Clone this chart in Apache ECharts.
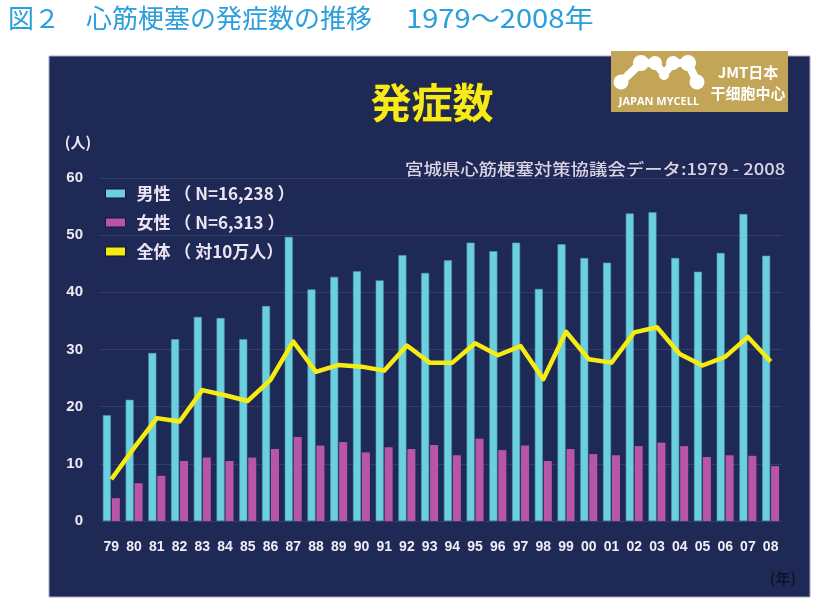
<!DOCTYPE html>
<html><head><meta charset="utf-8">
<script src="https://cdn.jsdelivr.net/npm/echarts@6/dist/echarts.min.js"></script>
<style>html,body{margin:0;padding:0;background:#fff}#c{width:820px;height:608px}</style>
</head><body><div id="c"></div>
<script>
const years = ['79','80','81','82','83','84','85','86','87','88','89','90','91','92','93','94','95','96','97','98','99','00','01','02','03','04','05','06','07','08'];
const male = [18.5,21.2,29.4,31.8,35.7,35.5,31.8,37.6,49.7,40.5,42.7,43.7,42.1,46.5,43.4,45.6,48.7,47.2,48.7,40.6,48.4,46.0,45.2,53.8,54.0,46.0,43.6,46.9,53.7,46.4];
const female = [4.0,6.6,7.9,10.5,11.1,10.5,11.1,12.6,14.7,13.2,13.8,12.0,12.9,12.6,13.3,11.5,14.4,12.4,13.2,10.5,12.6,11.7,11.5,13.1,13.7,13.1,11.2,11.5,11.4,9.6];
const total = [7.3,12.8,18.0,17.4,22.9,22.0,21.0,24.7,31.4,26.1,27.3,27.0,26.3,30.7,27.7,27.7,31.1,29.0,30.6,24.8,33.1,28.3,27.7,33.0,33.9,29.2,27.2,28.7,32.2,27.9];
const seriesNames = ['男性 （ N=16,238 ）','女性 （ N=6,313 ）','全体 （ 対10万人）'];
const yTicks = [0,10,20,30,40,50,60];

const chart = echarts.init(document.getElementById('c'), null, {renderer:'canvas'});
const cjk = "'Noto Sans CJK JP', 'Noto Sans', sans-serif";
const num = "'Liberation Sans Narrow', 'Liberation Sans', Arial, sans-serif";
chart.setOption({
  backgroundColor:'#ffffff',
  animation:false,
  grid:{left:100, right:38, top:178, bottom:87, containLabel:false},
  legend:{
    orient:'vertical', left:100, top:180, itemGap:12, itemWidth:20, itemHeight:9,
    data:seriesNames.map(n=>({name:n, icon:'rect'})),
    itemStyle:{borderColor:'#15182c', borderWidth:1},
    textStyle:{color:'#ece4f2', fontSize:17, fontWeight:'bold', fontFamily:cjk, padding:[0,0,0,6]}
  },
  xAxis:{
    type:'category', data:years,
    axisLine:{show:false}, axisTick:{show:false},
    axisLabel:{color:'#f2ecf6', fontSize:14, fontWeight:'bold', fontFamily:num, margin:19, interval:0}
  },
  yAxis:{
    type:'value', min:0, max:60, interval:10,
    axisLine:{show:false}, axisTick:{show:false},
    axisLabel:{color:'#efe8f5', fontSize:15, fontWeight:'bold', fontFamily:num, margin:17,
      formatter:v=>yTicks.includes(v)?String(v):''},
    splitLine:{lineStyle:{color:'rgba(140,140,175,0.2)', width:1}}
  },
  series:[
    {name:seriesNames[0], type:'bar', data:male, barWidth:8, barGap:'12%',
      itemStyle:{color:'#6bcfe0', borderColor:'#4b9fb2', borderWidth:0.6}},
    {name:seriesNames[1], type:'bar', data:female, barWidth:8,
      itemStyle:{color:'#b955a8'}},
    {name:seriesNames[2], type:'line', data:total, showSymbol:false, symbol:'none',
      lineStyle:{color:'#f6ec12', width:4.5, join:'round'}, itemStyle:{color:'#f6ec12'}, z:5}
  ],
  graphic:[
    {type:'rect', z:-10, shape:{x:49,y:56,width:761,height:541},
      style:{fill:'#1e2a55', stroke:'#a8a6c4', lineWidth:1}},
    {type:'text', x:8, y:18, style:{text:'図２', font:"26px "+cjk, fill:'#2a9fdb', verticalAlign:'middle'}},
    {type:'text', x:86, y:18, style:{text:'心筋梗塞の発症数の推移', font:"26px "+cjk, fill:'#2a9fdb', verticalAlign:'middle'}},
    {type:'text', x:406, y:18, scaleX:1.12, style:{text:'1979～2008年', font:"26px "+cjk, fill:'#2a9fdb', verticalAlign:'middle'}},
    {type:'text', x:432, y:102, z:10, style:{text:'発症数', font:"bold 41px "+cjk, fill:'#f7ea1c',
      stroke:'#3a3510', lineWidth:1, align:'center', verticalAlign:'middle',
      shadowColor:'rgba(0,0,0,0.6)', shadowOffsetX:2, shadowOffsetY:2, shadowBlur:2}},
    {type:'text', x:405, y:169, z:10, scaleX:1.15, style:{text:'宮城県心筋梗塞対策協議会データ:1979 - 2008', font:"500 16px "+cjk, fill:'#dcd4e6', verticalAlign:'middle'}},
    {type:'text', x:78, y:142, z:10, style:{text:'(人)', font:"bold 15px "+cjk, fill:'#ece6f2', align:'center', verticalAlign:'middle'}},
    {type:'text', x:783, y:578, z:10, style:{text:'(年)', font:"bold 15px "+cjk, fill:'#10152e', align:'center', verticalAlign:'middle'}},
    {type:'group', z:20, children:[
      {type:'rect', shape:{x:611,y:51,width:177,height:61}, style:{fill:'#c3a558'}},
      {type:'polyline', shape:{points:[[621,82],[641,63],[655,63],[664,74],[673,63],[688,63],[697,82]]},
        style:{stroke:'#ffffff', lineWidth:8, lineJoin:'round', lineCap:'round', fill:null}},
      {type:'circle', shape:{cx:621,cy:82,r:7.5}, style:{fill:'#ffffff'}},
      {type:'circle', shape:{cx:641,cy:63,r:8}, style:{fill:'#ffffff'}},
      {type:'circle', shape:{cx:655,cy:63,r:7}, style:{fill:'#ffffff'}},
      {type:'circle', shape:{cx:664,cy:75,r:5}, style:{fill:'#ffffff'}},
      {type:'circle', shape:{cx:673,cy:63,r:7}, style:{fill:'#ffffff'}},
      {type:'circle', shape:{cx:688,cy:63,r:8}, style:{fill:'#ffffff'}},
      {type:'circle', shape:{cx:697,cy:82,r:7.5}, style:{fill:'#ffffff'}},
      {type:'text', x:659, y:102, style:{text:'JAPAN MYCELL', font:"bold 11px 'Open Sans', 'Liberation Sans', sans-serif", fill:'#ffffff', align:'center', verticalAlign:'middle'}},
      {type:'text', x:748, y:72, style:{text:'JMT日本', font:"bold 15px 'Noto Sans CJK SC', sans-serif", fill:'#ffffff', align:'center', verticalAlign:'middle'}},
      {type:'text', x:748, y:93, style:{text:'干细胞中心', font:"bold 15px 'Noto Sans CJK SC', sans-serif", fill:'#ffffff', align:'center', verticalAlign:'middle'}}
    ]}
  ]
});
</script></body></html>
